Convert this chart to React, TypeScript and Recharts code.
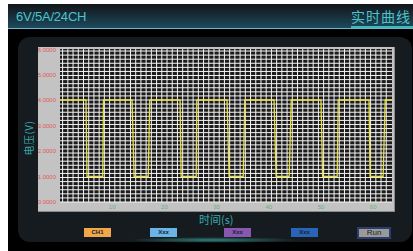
import React from "react";
import { LineChart, Line, XAxis, YAxis, CartesianGrid } from "recharts";

// square wave (time s, voltage V)
const times = [
  0, 4.98, 5.17, 8.18, 8.33, 13.8, 14.2, 16.9, 17.2, 23.0, 23.2, 26.1, 26.2, 32.0, 32.4,
  35.1, 35.4, 41.0, 41.4, 43.9, 44.3, 50.0, 50.3, 53.1, 53.3, 59.2, 59.4, 61.9, 62.3, 63.6,
];
const volts = [
  4, 4, 1, 1, 4, 4, 1, 1, 4, 4, 1, 1, 4, 4, 1, 1, 4, 4, 1, 1, 4, 4, 1, 1, 4, 4, 1, 1, 4, 4,
];
const xTicks = [10, 20, 30, 40, 50, 60];
const yTicks = [0, 1, 2, 3, 4, 5, 6];
const buttons = [
  { label: "CH1", color: "#f0a848", left: 76 },
  { label: "Xxx", color: "#6ab4e6", left: 142 },
  { label: "Xxx", color: "#8858b0", left: 216 },
  { label: "Xxx", color: "#2a64b8", left: 283 },
];

const data = times.map((t, i) => ({ t, v: volts[i] }));

// dense grid behind the trace, in data units
const X_MAX = 63.6;
const Y_MAX = 6;
const hGrid = Array.from({ length: 38 }, (_, i) => i * 0.16);
const vGrid = Array.from({ length: 63 }, (_, i) => i + 0.5);

const font = "'Liberation Sans', Arial, sans-serif";
const cjk = "'Noto Sans CJK SC', 'Liberation Sans', sans-serif";
const teal = "#3aa9b0";

const hGen = ({ yAxis, offset }: any) =>
  hGrid.map((v) =>
    yAxis && typeof yAxis.scale === "function"
      ? yAxis.scale(v)
      : offset.top + offset.height * (1 - v / Y_MAX)
  );
const vGen = ({ xAxis, offset }: any) =>
  vGrid.map((v) =>
    xAxis && typeof xAxis.scale === "function"
      ? xAxis.scale(v)
      : offset.left + (offset.width * v) / X_MAX
  );

export default function App() {
  return (
    <div
      style={{
        position: "absolute",
        left: 8,
        top: 4,
        width: 405,
        height: 247,
        background: "#000",
        overflow: "hidden",
        fontFamily: font,
      }}
    >
      {/* header */}
      <div
        style={{
          position: "absolute",
          left: 0,
          top: 0,
          width: 405,
          height: 24,
          background: "linear-gradient(#121418, #1d4a5c)",
          borderBottom: "1px solid #6fb5cf",
        }}
      />
      <div
        style={{
          position: "absolute",
          left: 8,
          top: 5,
          fontSize: 13,
          lineHeight: "16px",
          color: "#4cc4cc",
          letterSpacing: -0.2,
        }}
      >
        6V/5A/24CH
      </div>
      <div
        style={{
          position: "absolute",
          left: 343,
          top: 3,
          width: 62,
          fontSize: 14,
          color: "#4cc4cc",
          fontFamily: cjk,
          letterSpacing: 1,
          lineHeight: "19px",
          borderBottom: "2px solid #3cb8b8",
          whiteSpace: "nowrap",
        }}
      >
        实时曲线
      </div>

      {/* panel */}
      <div
        style={{
          position: "absolute",
          left: 10,
          top: 33,
          width: 394,
          height: 205,
          background: "#151b1e",
          borderRadius: 12,
        }}
      />
      <div
        style={{
          position: "absolute",
          left: 120,
          top: 233,
          width: 170,
          height: 6,
          background:
            "radial-gradient(ellipse at center, rgba(60,170,165,0.7), rgba(60,170,165,0) 70%)",
        }}
      />

      {/* chart frame */}
      <div
        style={{
          position: "absolute",
          left: 30,
          top: 43,
          width: 356,
          height: 164,
          background: "#c3c3c3",
          borderRight: "1px solid #8a8a8a",
          borderBottom: "1px solid #8a8a8a",
        }}
      >
        <LineChart
          width={356}
          height={164}
          data={data}
          margin={{ top: 2, right: 2, left: 0, bottom: 0 }}
        >
          <CartesianGrid
            fill="#1c1c1c"
            fillOpacity={1}
            stroke="#f4f4f4"
            strokeWidth={1}
            horizontalCoordinatesGenerator={hGen}
            verticalCoordinatesGenerator={vGen}
          />
          <XAxis
            dataKey="t"
            type="number"
            domain={[0, X_MAX]}
            ticks={xTicks}
            allowDataOverflow
            axisLine={false}
            tickLine={false}
            tickSize={1}
            height={9}
            tick={{ fill: "#5cb87a", fontSize: 6, fontFamily: font }}
          />
          <YAxis
            type="number"
            domain={[0, Y_MAX]}
            ticks={yTicks}
            axisLine={false}
            tickLine={false}
            tickSize={2}
            width={22}
            tickFormatter={(v: number) => v.toFixed(4)}
            tick={{ fill: "#e05a5a", fontSize: 6, fontFamily: font }}
          />
          <Line
            type="linear"
            dataKey="v"
            stroke="#e8e040"
            strokeWidth={1.3}
            dot={false}
            isAnimationActive={false}
          />
        </LineChart>
      </div>

      {/* axis titles */}
      <div
        style={{
          position: "absolute",
          left: 20,
          top: 134,
          transform: "translate(-50%, -50%) rotate(-90deg)",
          fontSize: 10,
          color: teal,
          fontFamily: cjk,
          whiteSpace: "nowrap",
          letterSpacing: 0.5,
        }}
      >
        电压(V)
      </div>
      <div
        style={{
          position: "absolute",
          left: 191,
          top: 208,
          fontSize: 11,
          color: teal,
          fontFamily: cjk,
          whiteSpace: "nowrap",
          lineHeight: "15px",
        }}
      >
        时间(s)
      </div>

      {/* channel buttons */}
      {buttons.map((b, i) => (
        <div
          key={i}
          style={{
            position: "absolute",
            left: b.left,
            top: 224,
            width: 27,
            height: 9,
            background: b.color,
            color: "#1a2030",
            fontSize: 6,
            fontWeight: "bold",
            lineHeight: "9px",
            textAlign: "center",
          }}
        >
          {b.label}
        </div>
      ))}
      <div
        style={{
          position: "absolute",
          left: 349,
          top: 223,
          width: 30,
          height: 8,
          background: "#9a9a9a",
          border: "2px solid #2c3c6c",
          color: "#222",
          fontSize: 8,
          lineHeight: "8px",
          textAlign: "center",
        }}
      >
        Run
      </div>
    </div>
  );
}
